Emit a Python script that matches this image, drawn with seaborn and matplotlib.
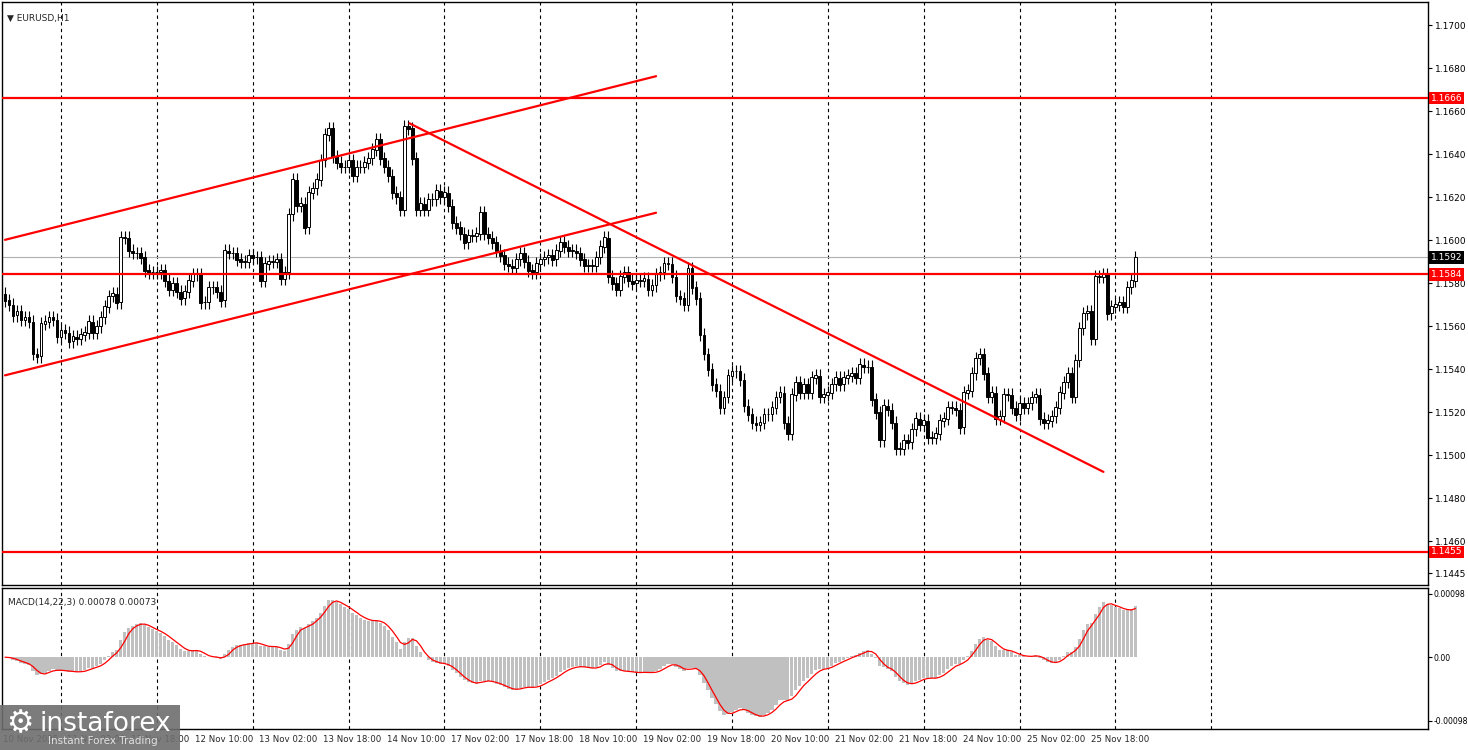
import numpy as np
import pandas as pd
import matplotlib
matplotlib.use("Agg")
import matplotlib.pyplot as plt
import seaborn as sns

closes = [
 1.1572,1.1570,1.1565,1.1567,1.1563,1.1564,1.1562,1.1547,1.1546,1.1561,1.1562,1.1564,1.1563,1.1555,
 1.1558,1.1557,1.1553,1.1555,1.1554,1.1556,1.1557,1.1562,1.1557,1.1560,1.1564,1.1569,1.1574,1.1575,1.1571,1.1601,1.1601,1.1595,1.1594,1.1594,1.1592,1.1586,1.1585,1.1585,
 1.1585,1.1586,1.1581,1.1577,1.1580,1.1576,1.1573,1.1576,1.1581,1.1584,1.1584,1.1571,1.1571,1.1578,1.1578,1.1576,1.1572,1.1595,1.1594,1.1594,1.1591,1.1590,1.1590,1.1593,
 1.1592,1.1592,1.1581,1.1589,1.1590,1.1590,1.1591,1.1582,1.1585,1.1612,1.1628,1.1616,1.1617,1.1606,1.1622,1.1624,1.1628,1.1637,1.1649,1.1652,1.1639,1.1636,1.1634,1.1634,
 1.1637,1.1630,1.1634,1.1634,1.1636,1.1638,1.1642,1.1647,1.1638,1.1634,1.1630,1.1622,1.1620,1.1614,1.1653,1.1652,1.1638,1.1614,1.1617,1.1614,1.1619,1.1619,1.1623,1.1620,
 1.1622,1.1616,1.1608,1.1606,1.1603,1.1599,1.1602,1.1602,1.1603,1.1613,1.1603,1.1601,1.1599,1.1595,1.1593,1.1589,1.1588,1.1587,1.1591,1.1594,1.1590,1.1586,1.1585,1.1589,
 1.1591,1.1592,1.1593,1.1591,1.1595,1.1599,1.1597,1.1595,1.1595,1.1594,1.1591,1.1588,1.1588,1.1588,1.1592,1.1597,1.1601,1.1583,1.1580,1.1577,1.1583,1.1585,1.1581,1.1580,
 1.1581,1.1581,1.1582,1.1577,1.1579,1.1584,1.1585,1.1589,1.1589,1.1583,1.1574,1.1573,1.1570,1.1587,1.1578,1.1573,1.1556,1.1547,1.1540,1.1533,1.1530,1.1522,1.1527,1.1537,
 1.1539,1.1539,1.1535,1.1523,1.1519,1.1515,1.1514,1.1515,1.1519,1.1519,1.1522,1.1527,1.1529,1.1515,1.1510,1.1528,1.1534,1.1529,1.1533,1.1529,1.1536,1.1537,1.1527,1.1528,
 1.1529,1.1533,1.1536,1.1533,1.1536,1.1537,1.1538,1.1536,1.1542,1.1541,1.1541,1.1526,1.1520,1.1507,1.1523,1.1521,1.1515,1.1503,1.1503,1.1507,1.1506,1.1512,1.1517,1.1514,
 1.1516,1.1508,1.1508,1.1510,1.1516,1.1517,1.1522,1.1522,1.1521,1.1513,1.1529,1.1530,1.1538,1.1545,1.1547,1.1538,1.1527,1.1529,1.1517,1.1518,1.1528,1.1528,1.1522,1.1519,
 1.1524,1.1522,1.1524,1.1527,1.1528,1.1517,1.1515,1.1516,1.1518,1.1522,1.1529,1.1534,1.1538,1.1527,1.1544,1.1559,1.1566,1.1567,1.1554,1.1583,1.1583,1.1584,1.1566,1.1569,
 1.1570,1.1571,1.1569,1.1578,1.1581,1.1592,
]
first_open = 1.1575
wick = 0.0003

levels = [1.1666, 1.1584, 1.1455]
current_price = 1.1592
channel_upper = ([0, 163], [1.16001, 1.16762])
channel_lower = ([0, 163], [1.15371, 1.16127])
down_line = ([101.25, 275], [1.16543, 1.14922])

price_ticks = [1.1700,1.1680,1.1660,1.1640,1.1620,1.1600,1.1580,1.1560,1.1540,1.1520,1.1500,1.1480,1.1460,1.1445]
macd_ticks = [0.00098, 0.0, -0.00098]
macd_tick_labels = ["0.00098", "0.00", "-0.00098"]
day_grid = [14 + 24 * k for k in range(13)]
xlabel_pos = [0,16,32,48,64,80,96,112,128,144,160,176,192,208,224,240,256,272]
xlabel_txt = ["10 Nov 2025","11 Nov 02:00","11 Nov 18:00","12 Nov 10:00","13 Nov 02:00","13 Nov 18:00",
              "14 Nov 10:00","17 Nov 02:00","17 Nov 18:00","18 Nov 10:00","19 Nov 02:00","19 Nov 18:00",
              "20 Nov 10:00","21 Nov 02:00","21 Nov 18:00","24 Nov 10:00","25 Nov 02:00","25 Nov 18:00"]

sns.set_style("white")
plt.rcParams['font.family'] = ['DejaVu Sans']

c = np.array(closes)
o = np.concatenate([[first_open], c[:-1]])
hi = np.maximum(o, c) + wick
lo = np.minimum(o, c) - wick
idx = np.arange(len(c))
df = pd.DataFrame({"i": idx, "close": c})
ema14 = df.close.ewm(span=14, adjust=False).mean()
ema22 = df.close.ewm(span=22, adjust=False).mean()
df["macd"] = ema14 - ema22
df["signal"] = df.macd.rolling(3, min_periods=1).mean()

fig = plt.figure(figsize=(14.68, 7.5), dpi=100)
W, H = 1468, 750
ax = fig.add_axes([2/W, (H-585)/H, 1426/W, 583/H])
axm = fig.add_axes([2/W, (H-729)/H, 1426/W, 141/H])
XL = (-0.75, (1428-3)/4)

for a in (ax, axm):
    a.set_xlim(*XL)
    for g in day_grid:
        a.axvline(g, color='black', lw=0.8, ls=(0, (3, 3)), zorder=0)
    for s in a.spines.values():
        s.set_color('black'); s.set_linewidth(1)
    a.yaxis.tick_right()
    a.tick_params(axis='y', direction='out', length=3, labelsize=6.5, pad=2, colors='black')
    a.set_xticks([])

ax.set_ylim(1.14396, 1.17107)
ax.set_yticks(price_ticks)
ax.set_yticklabels([f"{t:.4f}" for t in price_ticks])

# candles
up = c >= o
ax.vlines(idx, lo, hi, color='black', lw=0.8, zorder=3)
ax.bar(idx[up], (c - o)[up] + 0.00002, bottom=o[up], width=0.7, color='white', edgecolor='black', lw=0.7, zorder=4)
ax.bar(idx[~up], (c - o)[~up] - 0.00002, bottom=o[~up], width=0.7, color='black', edgecolor='black', lw=0.7, zorder=4)

for lv in levels:
    ax.axhline(lv, color='red', lw=1.6, zorder=5)
ax.axhline(current_price, color='#b0b0b0', lw=0.8, zorder=2)
for ln in (channel_upper, channel_lower, down_line):
    ax.plot(ln[0], ln[1], color='red', lw=1.6, zorder=5)

for lv in levels:
    ax.text(1.002, lv, f"{lv:.4f}", transform=ax.get_yaxis_transform(), va='center', ha='left',
            fontsize=6.5, color='white', bbox=dict(boxstyle='square,pad=0.2', fc='red', ec='none'), zorder=10, clip_on=False)
ax.text(1.002, current_price, f"{current_price:.4f}", transform=ax.get_yaxis_transform(), va='center', ha='left',
        fontsize=6.5, color='white', bbox=dict(boxstyle='square,pad=0.2', fc='black', ec='none'), zorder=10, clip_on=False)
ax.text(0.5, 1.1703, "▼ EURUSD,H1", fontsize=6.5, va='center', ha='left', transform=ax.transData)

# MACD
axm.set_ylim(-0.00111, 0.00107)
axm.set_yticks(macd_ticks)
axm.set_yticklabels(macd_tick_labels)
axm.tick_params(axis='y', labelsize=5.6, pad=1)
axm.bar(df.i, df.macd, width=0.8, color='#c0c0c0', lw=0, zorder=2)
sns.lineplot(data=df, x="i", y="signal", ax=axm, color='red', lw=0.9, zorder=3)
axm.set_xlabel(""); axm.set_ylabel("")
axm.set_xlim(*XL)
axm.text(0.004, 0.93, "MACD(14,22,3) 0.00078 0.00073", transform=axm.transAxes, fontsize=6.5, va='top', ha='left')

# x labels
for p, t in zip(xlabel_pos, xlabel_txt):
    xf = (3 + 4 * p) / W
    fig.text(xf, (H - 739) / H, t, fontsize=6.2, ha='left', va='center')

# watermark
fig.patches.append(matplotlib.patches.Rectangle((0, 0), 180/W, 45/H, transform=fig.transFigure,
                                                 fc='#6e6e6e', ec='none', alpha=0.9, zorder=20))
fig.text(40/W, 26/H, "instaforex", fontsize=19, color='white', ha='left', va='center', zorder=21)
fig.text(48/W, 9/H, "Instant Forex Trading", fontsize=7.5, color='#e0e0e0', ha='left', va='center', zorder=21)
fig.text(20/W, 26/H, "⚙", fontsize=22, color='white', ha='center', va='center', zorder=21)

fig.savefig("out.png", dpi=100)
